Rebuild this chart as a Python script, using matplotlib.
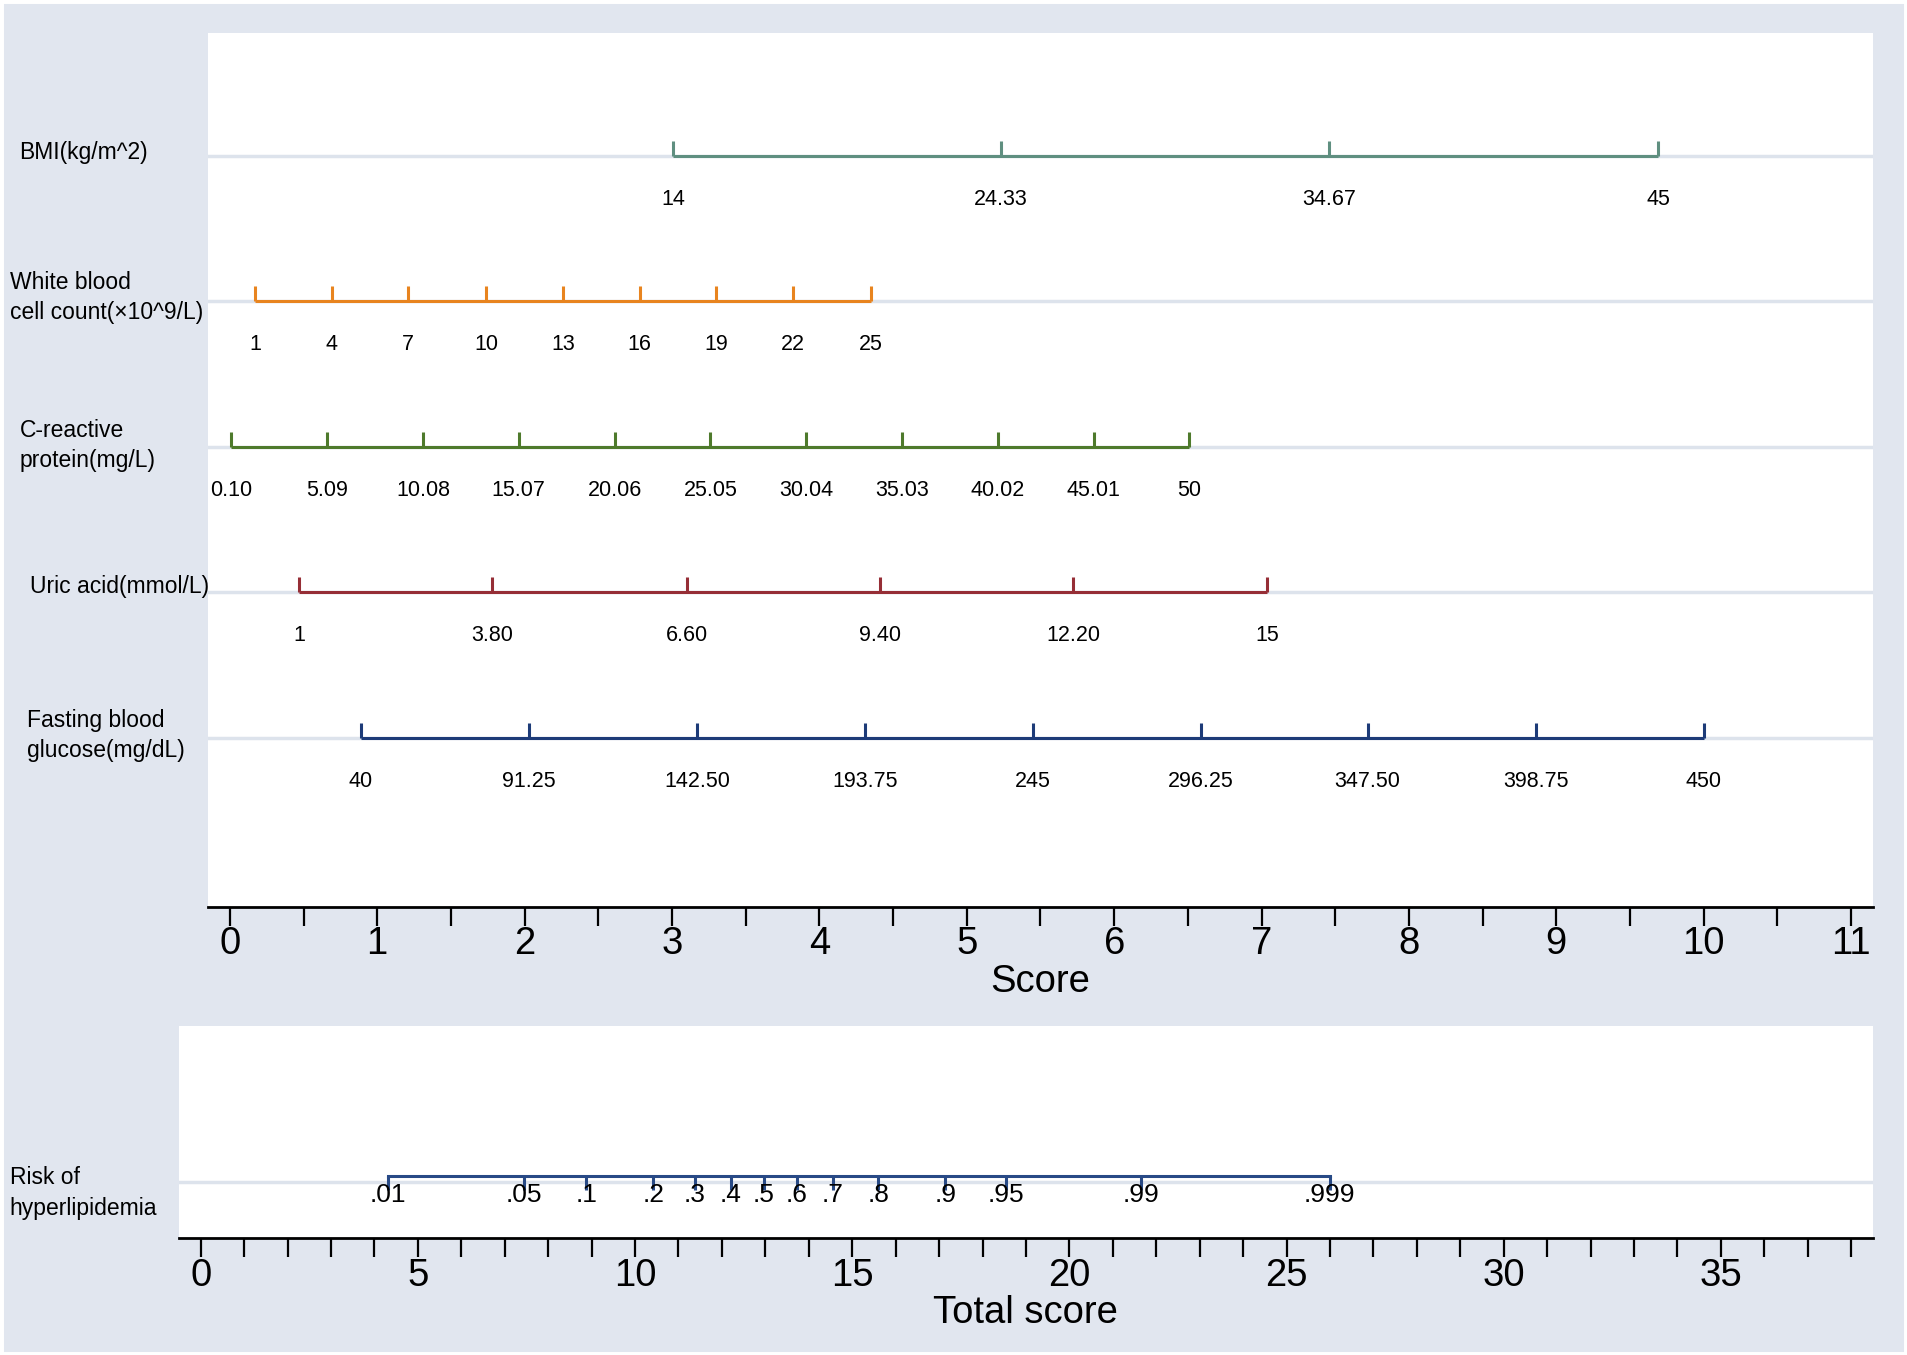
import matplotlib.pyplot as plt
from matplotlib.patches import Rectangle
from matplotlib.ticker import MultipleLocator

plt.rcParams['font.family'] = ['Liberation Sans', 'DejaVu Sans']

# Variables of the nomogram (score positions)
bmi_labels = ['14', '24.33', '34.67', '45']
bmi_scores = [3.01, 5.23, 7.46, 9.69]

wbc_labels = ['1', '4', '7', '10', '13', '16', '19', '22', '25']
wbc_scores = [0.17, 0.69, 1.21, 1.74, 2.26, 2.78, 3.30, 3.82, 4.35]

crp_labels = ['0.10', '5.09', '10.08', '15.07', '20.06', '25.05', '30.04',
              '35.03', '40.02', '45.01', '50']
crp_scores = [0.01, 0.66, 1.31, 1.96, 2.61, 3.26, 3.91, 4.56, 5.21, 5.86, 6.51]

ua_labels = ['1', '3.80', '6.60', '9.40', '12.20', '15']
ua_scores = [0.47, 1.78, 3.10, 4.41, 5.72, 7.04]

fbg_labels = ['40', '91.25', '142.50', '193.75', '245', '296.25', '347.50',
              '398.75', '450']
fbg_scores = [0.89, 2.03, 3.17, 4.31, 5.45, 6.59, 7.72, 8.86, 10.0]

risk_labels = ['.01', '.05', '.1', '.2', '.3', '.4', '.5', '.6', '.7', '.8',
               '.9', '.95', '.99', '.999']
risk_total = [4.31, 7.45, 8.88, 10.42, 11.37, 12.21, 12.97, 13.72, 14.56,
              15.60, 17.14, 18.54, 21.65, 25.99]

var_names = ['BMI(kg/m^2)', 'White blood\ncell count(\u00d710^9/L)',
             'C-reactive\nprotein(mg/L)', 'Uric acid(mmol/L)',
             'Fasting blood\nglucose(mg/dL)']
var_labels = [bmi_labels, wbc_labels, crp_labels, ua_labels, fbg_labels]
var_scores = [bmi_scores, wbc_scores, crp_scores, ua_scores, fbg_scores]
var_colors = ['#5f8f80', '#e8841f', '#4e7a2c', '#962e36', '#1d3b78']
name_x = [16, 8, 16, 25, 22]   # left x of row names (px of 1568 wide view)
name_dy = [-3, -3, -1, -5, -2]

bg = '#e1e6ef'
grid_c = '#dde3ec'

fig = plt.figure(figsize=(19.07, 13.55), dpi=100, facecolor=bg)
fig.patches.append(Rectangle((0, 0), 1, 1, transform=fig.transFigure,
                             facecolor='none', edgecolor='white', lw=5))

W, H = 1568.0, 1113.0

def fx(px):
    return px / W

def fy(py):
    return 1 - py / H

# ---- upper panel: points per variable
ax = fig.add_axes([fx(171), fy(745), fx(1540) - fx(171), fy(27) - fy(745)])
ax.set_xlim(-0.1485, 11.1485)
ax.set_ylim(-5.163, 0.845)
tick_h = 0.105
for i, (scores, labels, col) in enumerate(zip(var_scores, var_labels, var_colors)):
    y = -i
    ax.axhline(y, color=grid_c, lw=2.5, zorder=1)
    ax.plot([scores[0], scores[-1]], [y, y], color=col, lw=2.2, zorder=3,
            solid_capstyle='butt')
    ax.vlines(scores, y, y + tick_h, color=col, lw=2.2, zorder=3)
    for s, lab in zip(scores, labels):
        ax.text(s, y - 0.30, lab, ha='center', va='center', fontsize=15.5)
    fig.text(fx(name_x[i]), fy(128 + i * 119.5 + name_dy[i]), var_names[i],
             ha='left', va='center', fontsize=16.5, linespacing=1.4)

for side in ['top', 'right', 'left']:
    ax.spines[side].set_visible(False)
ax.spines['bottom'].set_linewidth(2)
ax.set_yticks([])
ax.xaxis.set_major_locator(MultipleLocator(1))
ax.xaxis.set_minor_locator(MultipleLocator(0.5))
ax.tick_params(axis='x', which='both', direction='out', length=14, width=1.6,
               labelsize=27.5, pad=0)
ax.set_xlabel('Score', fontsize=27.5, labelpad=1)

# ---- lower panel: total points -> risk
ax2 = fig.add_axes([fx(147), fy(1017), fx(1540) - fx(147), fy(843) - fy(1017)])
ax2.set_xlim(-0.504, 38.5)
ax2.set_ylim(-0.385, 1.071)
ax2.axhline(0, color=grid_c, lw=2.5, zorder=1)
ry = 0.045
ax2.plot([risk_total[0], risk_total[-1]], [ry, ry], color='#284a86', lw=2.2,
         zorder=3)
ax2.vlines(risk_total, ry, ry - 0.1, color='#284a86', lw=2.2, zorder=3)
for s, lab in zip(risk_total, risk_labels):
    ax2.text(s, -0.09, lab, ha='center', va='center', fontsize=19)
fig.text(fx(8), fy(980), 'Risk of\nhyperlipidemia', ha='left', va='center',
         fontsize=16.5, linespacing=1.4)

for side in ['top', 'right', 'left']:
    ax2.spines[side].set_visible(False)
ax2.spines['bottom'].set_linewidth(2)
ax2.set_yticks([])
ax2.xaxis.set_major_locator(MultipleLocator(5))
ax2.xaxis.set_minor_locator(MultipleLocator(1))
ax2.tick_params(axis='x', which='both', direction='out', length=14, width=1.6,
                labelsize=27.5, pad=0)
ax2.set_xlabel('Total score', fontsize=27.5, labelpad=1)

fig.savefig('out.png', dpi=100, facecolor=bg)
